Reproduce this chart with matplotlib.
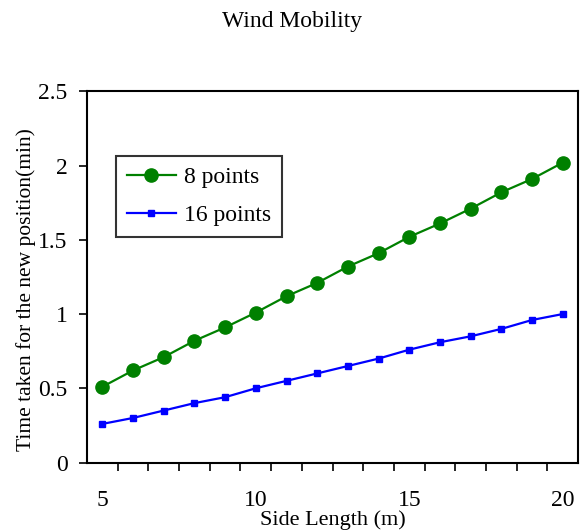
import matplotlib.pyplot as plt
from matplotlib.ticker import FixedLocator

plt.rcParams['font.family'] = ['Liberation Serif', 'DejaVu Serif']

side_length = [5, 6, 7, 8, 9, 10, 11, 12, 13, 14, 15, 16, 17, 18, 19, 20]
time_8 = [0.51, 0.62, 0.71, 0.82, 0.91, 1.01, 1.12, 1.21,
          1.32, 1.41, 1.52, 1.61, 1.71, 1.82, 1.91, 2.02]
time_16 = [0.26, 0.30, 0.35, 0.40, 0.44, 0.50, 0.55, 0.60,
           0.65, 0.70, 0.76, 0.81, 0.85, 0.90, 0.96, 1.00]
x_labels = [5, 10, 15, 20]
y_ticks = [0, 0.5, 1, 1.5, 2, 2.5]

fig = plt.figure(figsize=(5.84, 5.31), dpi=100)
ax = fig.add_axes([0.149, 0.129, 0.841, 0.699])

ax.plot(side_length, time_8, color='#008000', lw=1.6, marker='o', ms=9.5, label='8 points')
ax.plot(side_length, time_16, color='#0000ff', lw=1.6, marker='s', ms=4.5, label='16 points')

ax.set_xlim(4.5, 20.5)
ax.set_ylim(0, 2.5)
ax.set_xticks(x_labels)
ax.set_xticklabels([str(v) for v in x_labels])
ax.xaxis.set_minor_locator(FixedLocator([v + 0.5 for v in side_length[:-1]]))
ax.tick_params(axis='x', which='major', length=0, pad=20, labelsize=17)
ax.tick_params(axis='x', which='minor', direction='out', length=6, width=1.2)
ax.set_yticks(y_ticks)
ax.set_yticklabels(['%g' % v for v in y_ticks])
ax.tick_params(axis='y', direction='out', length=6, width=1.2, labelsize=17, pad=8)

for s in ax.spines.values():
    s.set_linewidth(1.5)

ax.set_xlabel('Side Length (m)', fontsize=16, va='center')
ax.xaxis.set_label_coords(0.5, -0.155)
ax.set_ylabel('Time taken for the new position(min)', fontsize=15.5, va='center')
ax.yaxis.set_label_coords(-0.124, 0.465)
fig.suptitle('Wind Mobility', fontsize=17, y=0.98)

leg = ax.legend(loc='upper left', bbox_to_anchor=(0.059, 0.825), borderaxespad=0,
                fontsize=17, frameon=True, fancybox=False, edgecolor='black',
                borderpad=0.45, handlelength=2.1, handletextpad=0.35, labelspacing=0.7)
leg.get_frame().set_linewidth(1.5)

fig.savefig('out.png', dpi=100)
